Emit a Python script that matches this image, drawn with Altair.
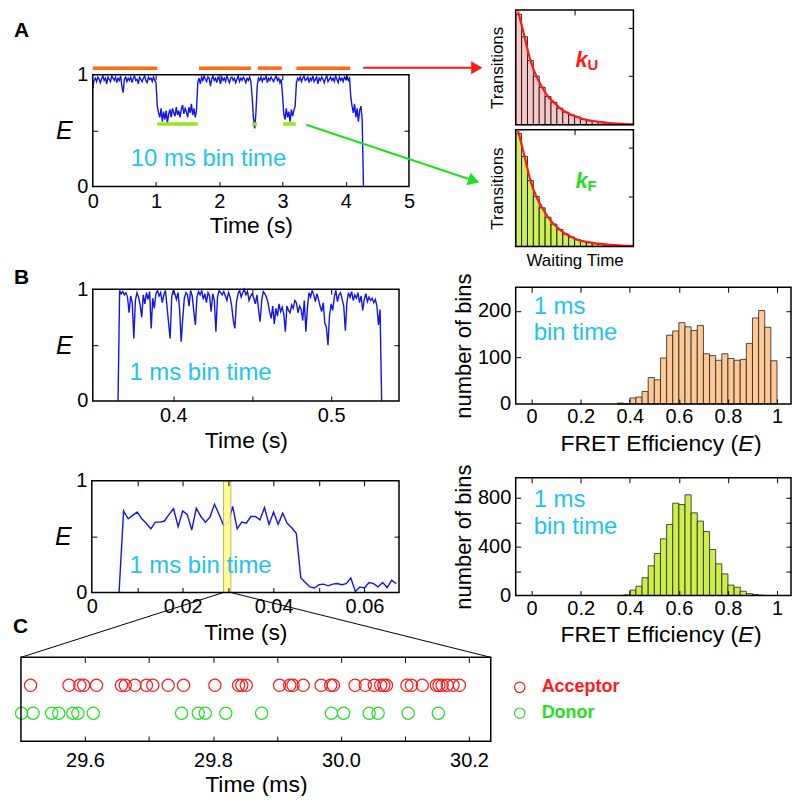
import altair as alt
import pandas as pd

FONT = "Liberation Sans"
W, H = 786, 788
BLUE = "#1414e6"
CYAN = "#1ec3f0"
ORANGE = "#ff6a13"
RED = "#ff1a1a"
LIME = "#99e619"
GREEN = "#1ee01e"
LAB = 20
TIT = 23

# ---------------- data ----------------
# Panel A: FRET efficiency trace (values every 20 ms)
a_step = 0.02
a_E = [
    0.88, 0.95, 0.97, 0.94, 0.98, 0.96, 0.93, 0.97, 0.99, 0.95,
    0.97, 0.92, 0.98, 0.96, 0.94, 0.99, 0.97, 0.95, 0.98, 0.93,
    0.97, 0.95, 0.99, 0.90, 0.84, 0.96, 0.98, 0.94, 0.97, 0.95,
    0.98, 0.93, 0.97, 0.99, 0.95, 0.96, 0.92, 0.98, 0.96, 0.94,
    0.97, 0.99, 0.95, 0.93, 0.98, 0.96, 0.97, 0.94, 0.98, 0.95,
    0.93, 0.72, 0.66, 0.62, 0.70, 0.58, 0.67, 0.60, 0.68, 0.57,
    0.65, 0.69, 0.62, 0.70, 0.66, 0.63, 0.71, 0.64, 0.68, 0.62,
    0.69, 0.73, 0.65, 0.70, 0.67, 0.62, 0.71, 0.66, 0.74, 0.64,
    0.70, 0.62, 0.68, 0.93, 0.97, 0.92, 0.98, 0.95, 0.99, 0.96,
    0.94, 0.98, 0.97, 0.90, 0.96, 0.99, 0.95, 0.97, 0.93, 0.98,
    0.96, 0.92, 0.98, 0.95, 0.97, 0.94, 0.99, 0.96, 0.93, 0.97,
    0.98, 0.95, 0.97, 0.93, 0.96, 0.99, 0.94, 0.97, 0.95, 0.98,
    0.96, 0.93, 0.97, 0.95, 0.98, 0.94, 0.80, 0.62, 0.52, 0.66,
    0.90, 0.97, 0.95, 0.98, 0.94, 0.97, 0.96, 0.99, 0.93, 0.97,
    0.95, 0.98, 0.96, 0.94, 0.97, 0.99, 0.95, 0.97, 0.93, 0.96,
    0.82, 0.65, 0.60, 0.70, 0.62, 0.67, 0.58, 0.69, 0.63, 0.68,
    0.72, 0.93, 0.97, 0.95, 0.98, 0.94, 0.97, 0.99, 0.95, 0.96,
    0.98, 0.93, 0.97, 0.95, 0.99, 0.94, 0.96, 0.98, 0.92, 0.97,
    0.95, 0.98, 0.96, 0.93, 0.97, 0.99, 0.94, 0.96, 0.98, 0.95,
    0.97, 0.94, 0.99, 0.96, 0.93, 0.98, 0.95, 0.97, 0.94, 0.98,
    0.96, 0.99, 0.95, 0.97, 0.80, 0.72, 0.66, 0.74, 0.62, 0.70,
    0.58, 0.68, 0.72, 0.60, 0.00,
]
unf_start = [0.0, 1.68, 2.61, 3.22]
unf_end = [1.02, 2.50, 2.99, 4.07]
unf_level = 1.06
fold_start = [1.02, 2.52, 3.01]
fold_end = [1.66, 2.60, 3.21]
fold_level = 0.56

# Waiting-time histograms (arbitrary units)
wu_counts = [227, 181, 132, 100, 77, 58, 46, 34, 26, 20, 16, 11, 8, 7, 5, 4, 2.6, 2, 1.4, 0.7]
wf_counts = [228, 182, 133, 101, 78, 59, 45, 34, 25, 19, 13.5, 10, 7.4, 5.4, 4, 2.7, 2, 1.4, 0.7, 0.7]
fit_x = [0.4, 1, 1.5, 2.5, 3.5, 4.5, 5.5, 6.5, 7.5, 8.5, 9.5, 10.5, 12, 14, 16, 18, 20]
fitu_y = [233, 205, 181, 132, 100, 77, 58, 46, 34, 26, 20, 16, 10, 6, 3.5, 2, 1]
fitf_y = [234, 206, 182, 133, 101, 78, 59, 45, 34, 25, 19, 13.5, 9, 5.5, 3.2, 1.8, 1]

# Panel B top trace (1 ms bins, start 0.365 s)
bt_start = 0.365
bt_E = [
    0.00, 0.99, 0.96, 0.98, 0.95, 0.97, 0.93, 0.79, 0.94, 0.88,
    0.56, 0.90, 0.97, 0.93, 0.86, 0.75, 0.95, 0.87, 0.97, 0.91,
    0.98, 0.65, 0.92, 0.83, 0.96, 0.99, 0.94, 0.97, 0.88, 0.95,
    0.99, 0.85, 0.70, 0.56, 0.93, 0.99, 0.96, 0.91, 0.97, 0.82,
    0.53, 0.74, 0.92, 0.97, 0.95, 0.85, 0.99, 0.94, 0.80, 0.68,
    0.93, 0.98, 0.95, 0.99, 0.91, 0.96, 0.88, 0.97, 0.94, 0.80,
    0.96, 0.90, 0.62, 0.93, 0.99, 0.97, 0.95, 0.98, 0.94, 0.90,
    0.97, 0.93, 0.85, 0.72, 0.65, 0.88, 0.96, 0.99, 0.93, 0.97,
    1.00, 0.95, 0.98, 0.90, 0.94, 0.96, 0.92, 0.87, 0.95, 0.82,
    0.71, 0.90, 0.98, 0.96, 0.93, 0.88, 0.80, 0.74, 0.85, 0.69,
    0.83, 0.76, 0.87, 0.80, 0.84, 0.78, 0.62, 0.85, 0.81, 0.79,
    0.86, 0.83, 0.90, 0.88, 0.79, 0.85, 0.82, 0.72, 0.90, 0.62,
    0.84, 0.97, 0.93, 0.99, 0.95, 0.89, 0.96, 0.91, 0.85, 0.80,
    0.88, 0.70, 0.66, 0.50, 0.77, 0.87, 0.81, 0.93, 0.99, 0.89,
    0.95, 0.97, 0.91, 0.85, 0.63, 0.88, 0.97, 0.93, 0.98, 0.90,
    0.95, 0.92, 0.97, 0.88, 0.94, 0.81, 0.91, 0.96, 0.89, 0.93,
    0.90, 0.92, 0.88, 0.91, 0.85, 0.68, 0.82, 0.00,
]

# Panel B bottom trace (1 ms bins, start 0.006 s)
bb_start = 0.006
bb_E = [
    0.00, 0.73, 0.66, 0.69, 0.72, 0.66, 0.62, 0.57, 0.63, 0.63,
    0.64, 0.70, 0.75, 0.59, 0.73, 0.70, 0.56, 0.755, 0.68, 0.63,
    0.675, 0.79, 0.70, 0.60, 0.62, 0.77, 0.57, 0.63, 0.62, 0.68,
    0.68, 0.65, 0.76, 0.61, 0.72, 0.61, 0.71, 0.62, 0.58, 0.53,
    0.13, 0.09, 0.05, 0.04, 0.07, 0.075, 0.06, 0.075, 0.08, 0.07,
    0.08, 0.13, 0.01, 0.05, 0.04, 0.09, 0.08, 0.05, 0.09, 0.045,
    0.11, 0.08,
]
band_start, band_end = 0.0290, 0.0306

# FRET histograms (bin width 0.025)
ht_first, ht_counts = 0.35, [2, 0, 13, 15, 27, 57, 52, 99, 148, 157, 175, 166, 158, 169,
                            108, 104, 94, 108, 98, 94, 96, 130, 185, 201, 165, 93]
hb_first, hb_counts = 0.375, [5, 44, 76, 145, 243, 344, 464, 582, 756, 745, 825, 677,
                              609, 524, 377, 259, 177, 85, 68, 35, 16, 8, 3]
hbin = 0.025

# Panel C photon arrival times (ms)
acceptor_t = [29.515, 29.575, 29.592, 29.598, 29.618, 29.657, 29.663, 29.678, 29.696,
              29.706, 29.730, 29.754, 29.803, 29.840, 29.845, 29.852, 29.904, 29.920,
              29.925, 29.941, 29.969, 29.984, 29.988, 30.022, 30.038, 30.052, 30.062,
              30.067, 30.071, 30.103, 30.110, 30.127, 30.149, 30.153, 30.158, 30.166,
              30.175, 30.185]
donor_t = [29.501, 29.519, 29.548, 29.559, 29.581, 29.589, 29.613, 29.751, 29.777,
           29.788, 29.820, 29.876, 29.985, 30.004, 30.044, 30.058, 30.105, 30.152]

# ---------------- panel geometry: (x domain, x range px, y domain, y range px) -------
PAN = {
    "A": ([0, 5], [85, 402], [0, 1], [178, 66]),
    "WU": ([0, 20], [509, 627], [0, 236], [116, 1]),
    "WF": ([0, 20], [509, 627], [0, 236], [238, 121]),
    "BT": ([0.349, 0.543], [85, 392], [0, 1], [393, 281]),
    "HT": ([-0.065, 1.057], [509, 785], [0, 251], [396, 279]),
    "BB": ([0, 0.0676], [84, 392], [0, 1], [585, 473]),
    "HB": ([-0.065, 1.057], [509, 785], [0, 964], [588, 470]),
    "C": ([29.5, 30.234], [13, 484], [0, 3], [734, 650]),
}


def scale(dom, rng):
    return alt.Scale(domain=dom, range=rng, nice=False, zero=False)


def X(p, field, axis=None):
    return alt.X(f"{field}:Q", scale=scale(PAN[p][0], PAN[p][1]), axis=axis)


def Y(p, field, axis=None):
    return alt.Y(f"{field}:Q", scale=scale(PAN[p][2], PAN[p][3]), axis=axis)


def lab_axis(orient, offset, **kw):
    base = dict(orient=orient, offset=offset, ticks=False, tickSize=0, domain=False,
                grid=False, labelFont=FONT, labelFontSize=LAB, labelColor="black",
                labelFlush=False, labelOverlap=False, titleFont=FONT, titleFontSize=TIT,
                titleFontWeight="normal", titleColor="black")
    base.update(kw)
    return alt.Axis(**base)


def tick_axis(orient, offset, values):
    return alt.Axis(orient=orient, offset=offset, values=values, labels=False, ticks=True,
                    tickSize=5, tickWidth=1, tickColor="black", domain=False, grid=False,
                    title=None, zindex=1)


def frame(p, xb, yl, xt, yr_):
    xd, xr, yd, yr = PAN[p]
    df = pd.DataFrame({"x0": [xd[0]], "x1": [xd[1]], "y0": [yd[0]], "y1": [yd[1]]})
    f1 = alt.Chart(df).mark_rect(fillOpacity=0, stroke="black", strokeWidth=1.5).encode(
        x=X(p, "x0", tick_axis("top", -yr[0], xb) if xb else None), x2="x1",
        y=Y(p, "y0", tick_axis("right", xr[0] - W, yl) if yl else None), y2="y1")
    f2 = alt.Chart(df).mark_rect(opacity=0).encode(
        x=X(p, "x0", tick_axis("bottom", yr[1] - H, xt) if xt else None), x2="x1",
        y=Y(p, "y0", tick_axis("left", -xr[1], yr_) if yr_ else None), y2="y1")
    return [f1, f2]


ONE = pd.DataFrame({"k": [0]})


def txt(x, y, s, size=19, color="black", align="center", weight="normal", style="normal",
        baseline="middle", angle=0):
    return alt.Chart(ONE).mark_text(text=s, font=FONT, fontSize=size, color=color, align=align,
                                    fontWeight=weight, fontStyle=style, baseline=baseline,
                                    angle=angle).encode(x=alt.value(x), y=alt.value(y))


def seg(x1, y1, x2, y2, color, width=1.0):
    return alt.Chart(ONE).mark_rule(color=color, strokeWidth=width).encode(
        x=alt.value(x1), y=alt.value(y1), x2=alt.value(x2), y2=alt.value(y2))


def head(x, y, color, angle=0, size=170):
    return alt.Chart(ONE).mark_point(shape="triangle-right", filled=True, color=color,
                                     opacity=1, size=size, angle=angle).encode(
        x=alt.value(x), y=alt.value(y))


def e_axis(p):
    return lab_axis("left", -PAN[p][1][0], values=[0, 0.5, 1], format="~g",
                    labelExpr="datum.value == 0.5 ? '' : datum.label", labelPadding=5,
                    labelBaseline="middle", title="E", titleX=-29, titleAngle=0,
                    titleFontStyle="italic", titleFontSize=25, titleAlign="center",
                    titleBaseline="middle")


layers = []

# ---------------- Panel A trace ----------------
a_df = pd.DataFrame({"t": [round(i * a_step, 3) for i in range(len(a_E))], "E": a_E})
layers.append(alt.Chart(a_df).mark_line(color=BLUE, strokeWidth=1.4).encode(
    x=X("A", "t", lab_axis("bottom", 178 - H, values=[0, 1, 2, 3, 4, 5], format="d",
                            labelPadding=15, labelBaseline="middle", title="Time (s)",
                            titleY=39, titleBaseline="middle")),
    y=Y("A", "E", e_axis("A"))))
seg_df = pd.DataFrame({
    "s": unf_start + fold_start, "e": unf_end + fold_end,
    "lv": [unf_level] * len(unf_start) + [fold_level] * len(fold_start),
    "c": [ORANGE] * len(unf_start) + [LIME] * len(fold_start)})
layers.append(alt.Chart(seg_df).mark_rule(strokeWidth=3.5).encode(
    x=X("A", "s"), x2="e", y=Y("A", "lv"), color=alt.Color("c:N", scale=None)))
layers += frame("A", [1, 2, 3, 4], [0.5], [1, 2, 3, 4], [0.5])
layers.append(txt(201, 150, "10 ms bin time", size=24, color=CYAN))
# arrows from panel A to waiting-time histograms
layers.append(seg(356, 59, 465, 59, RED, 2))
layers.append(head(470, 59, RED))
layers.append(seg(299, 116, 462, 170.5, GREEN, 2))
layers.append(head(467, 172.2, GREEN, angle=18.5))

# ---------------- Waiting-time histograms ----------------
for key, counts, fit_y, fill, lab, col, ky in [
        ("WU", wu_counts, fitu_y, "#f7c6c6", "U", RED, 58),
        ("WF", wf_counts, fitf_y, "#ccee5a", "F", GREEN, 179)]:
    wdf = pd.DataFrame({"s": list(range(len(counts))), "e": list(range(1, len(counts) + 1)),
                        "n": counts, "z": [0] * len(counts)})
    yax = lab_axis("left", -509, labels=False, title="Transitions", titleX=-18,
                   titleAngle=270, titleFontSize=17, titleAlign="center",
                   titleBaseline="middle")
    xax = None
    if key == "WF":
        xax = lab_axis("bottom", 238 - H, labels=False, title="Waiting Time", titleY=14,
                       titleFontSize=17, titleBaseline="middle")
    layers.append(alt.Chart(wdf).mark_rect(fill=fill, stroke="black", strokeWidth=0.8).encode(
        x=X(key, "s", xax), x2="e", y=Y(key, "n", yax), y2="z"))
    fdf = pd.DataFrame({"x": fit_x, "y": fit_y})
    layers.append(alt.Chart(fdf).mark_line(color=RED, strokeWidth=2.2,
                                           interpolate="monotone").encode(
        x=X(key, "x"), y=Y(key, "y")))
    layers += frame(key, None, None, [10], [100, 200])
    layers.append(txt(569, ky, "k", size=22, color=col, align="left", weight="bold",
                      style="italic", baseline="alphabetic"))
    layers.append(txt(581, ky + 3, lab, size=15, color=col, align="left", weight="bold",
                      baseline="alphabetic"))

# ---------------- Panel B traces ----------------
bt_df = pd.DataFrame({"t": [round(bt_start + i * 0.001, 4) for i in range(len(bt_E))],
                      "E": bt_E})
layers.append(alt.Chart(bt_df).mark_line(color=BLUE, strokeWidth=1.4).encode(
    x=X("BT", "t", lab_axis("bottom", 393 - H, values=[0.4, 0.5], format=".1f",
                             labelPadding=15, labelBaseline="middle", title="Time (s)",
                             titleY=40, titleBaseline="middle")),
    y=Y("BT", "E", e_axis("BT"))))
layers += frame("BT", [0.4, 0.45, 0.5], [0.5], [0.4, 0.45, 0.5], [0.5])
layers.append(txt(193, 365, "1 ms bin time", size=24, color=CYAN))

bb_df = pd.DataFrame({"t": [round(bb_start + i * 0.001, 4) for i in range(len(bb_E))],
                      "E": bb_E})
layers.append(alt.Chart(bb_df).mark_line(color=BLUE, strokeWidth=1.4).encode(
    x=X("BB", "t", lab_axis("bottom", 585 - H, values=[0, 0.02, 0.04, 0.06], format="~g",
                             labelPadding=14, labelBaseline="middle", title="Time (s)",
                             titleY=40, titleBaseline="middle")),
    y=Y("BB", "E", e_axis("BB"))))
band_df = pd.DataFrame({"s": [band_start], "e": [band_end], "y0": [0], "y1": [1]})
layers.append(alt.Chart(band_df).mark_rect(fill="#ffff88", stroke="#b5b04a", strokeWidth=1,
                                           opacity=0.9).encode(
    x=X("BB", "s"), x2="e", y=Y("BB", "y0"), y2="y1"))
bb_ticks = [0.01, 0.02, 0.03, 0.04, 0.05, 0.06]
layers += frame("BB", bb_ticks, [0.5], bb_ticks, [0.5])
layers.append(txt(193, 558, "1 ms bin time", size=24, color=CYAN))

# ---------------- Panel B histograms ----------------
e_vals = [0, 0.2, 0.4, 0.6, 0.8, 1]
for key, first, counts, fill, yvals, ylabs, y_lab, y_bins in [
        ("HT", ht_first, ht_counts, "#fdc894", [100, 200], [0, 100, 200], 436, (299, 325)),
        ("HB", hb_first, hb_counts, "#ccee48", [200, 400, 600, 800], [0, 400, 800], 628,
         (492, 519))]:
    starts = [round(first + i * hbin, 4) for i in range(len(counts))]
    hdf = pd.DataFrame({"s": starts, "e": [round(s + hbin, 4) for s in starts],
                        "n": counts, "z": [0] * len(counts)})
    yb = PAN[key][3][0]
    layers.append(alt.Chart(hdf).mark_rect(fill=fill, stroke="#222222", strokeWidth=0.8).encode(
        x=X(key, "s", lab_axis("bottom", yb - H, values=e_vals, format="~g", labelPadding=13,
                                labelBaseline="middle", title=None)),
        x2="e",
        y=Y(key, "n", lab_axis("left", -509, values=ylabs, format="d", labelPadding=5,
                                labelBaseline="middle", title="number of bins", titleX=-52,
                                titleFontSize=22, titleAngle=270, titleAlign="center",
                                titleBaseline="middle")),
        y2="z"))
    layers += frame(key, e_vals, yvals, e_vals, yvals)
    layers.append(txt(527, y_bins[0], "1 ms", size=24, color=CYAN, align="left"))
    layers.append(txt(527, y_bins[1], "bin time", size=24, color=CYAN, align="left"))
    layers.append(txt(732, y_lab, "FRET Efficiency (", size=TIT, align="right"))
    layers.append(txt(732, y_lab, "E", size=TIT, align="left", style="italic"))
    layers.append(txt(748, y_lab, ")", size=TIT, align="left"))

# ---------------- Panel C photons ----------------
ph_df = pd.DataFrame({"t": acceptor_t + donor_t,
                      "row": [2] * len(acceptor_t) + [1] * len(donor_t),
                      "c": [RED] * len(acceptor_t) + [GREEN] * len(donor_t)})
c_ticks = [29.6, 29.7, 29.8, 29.9, 30.0, 30.1, 30.2]
layers.append(alt.Chart(ph_df).mark_point(shape="circle", filled=False, size=150,
                                          strokeWidth=1.2, opacity=1).encode(
    x=X("C", "t", lab_axis("bottom", 734 - H, values=[29.6, 29.8, 30.0, 30.2], format=".1f",
                            labelPadding=19, labelBaseline="middle", title="Time (ms)",
                            titleY=43, titleBaseline="middle")),
    y=Y("C", "row"), color=alt.Color("c:N", scale=None)))
layers += frame("C", c_ticks, None, c_ticks, None)

# zoom lines from band to panel C
layers.append(seg(216, 585, 13, 650, "black", 1))
layers.append(seg(223.5, 585, 484, 650, "black", 1))

# legend
layers.append(alt.Chart(ONE).mark_point(shape="circle", filled=False, size=110, color=RED,
                                        strokeWidth=1.2, opacity=1).encode(
    x=alt.value(513), y=alt.value(680)))
layers.append(alt.Chart(ONE).mark_point(shape="circle", filled=False, size=110, color=GREEN,
                                        strokeWidth=1.2, opacity=1).encode(
    x=alt.value(513), y=alt.value(706)))
layers.append(txt(535, 680, "Acceptor", size=18, color=RED, align="left", weight="bold"))
layers.append(txt(535, 706, "Donor", size=18, color=GREEN, align="left", weight="bold"))

# panel letters
layers.append(txt(6, 22, "A", size=21, align="left", weight="bold"))
layers.append(txt(6, 270, "B", size=21, align="left", weight="bold"))
layers.append(txt(5, 620, "C", size=21, align="left", weight="bold"))

chart = alt.layer(*layers).resolve_scale(x="independent", y="independent").properties(
    width=W, height=H, padding=0, autosize=alt.AutoSizeParams(type="none"),
    background="white").configure_view(stroke="transparent")

chart.save("out.html", embed_options={"renderer": "svg", "actions": False})
